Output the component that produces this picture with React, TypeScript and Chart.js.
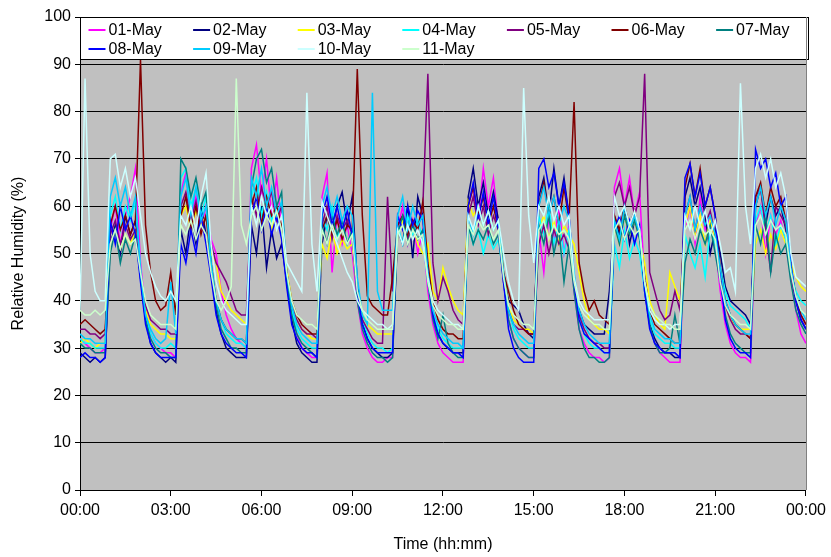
import React, { useEffect, useRef } from 'react';
import { Chart, registerables } from 'chart.js';

Chart.register(...registerables);

// Relative humidity (%) sampled every 10 minutes from 00:00 to 24:00 (145 samples per day)
const SERIES_LABELS = ['01-May', '02-May', '03-May', '04-May', '05-May', '06-May', '07-May', '08-May', '09-May', '10-May', '11-May'];
const SERIES_COLORS = ['#FF00FF', '#000080', '#FFFF00', '#00FFFF', '#800080', '#800000', '#008080', '#0000FF', '#00CCFF', '#CCFFFF', '#CCFFCC'];
const SAMPLE_MINUTES = Array.from({ length: 145 }, (_, i) => i * 10);
const X_TICK_LABELS = ['00:00', '03:00', '06:00', '09:00', '12:00', '15:00', '18:00', '21:00', '00:00'];

const MAY01 = [32,31,30,29,29,30, 55,60,52,58,62,68, 48,38,33,31,30,29,29,28, 63,67,58,62,55,60, 53,50,42,37,34,32,31,30, 68,73,62,70,58,66,55, 46,38,33,30,29,28,28, 62,67,46,58,52,56,50, 40,33,30,28,27,27,28,28, 55,60,52,57,50,55, 42,35,31,29,28,27,27,27, 60,64,57,68,60,66,56, 44,36,32,30,29,28,28, 55,46,58,52,60,50,56, 42,34,31,29,28,28,27,28, 64,68,60,66,58,63, 44,35,31,29,28,27,27,27, 55,60,52,62,55,58,52, 42,35,31,29,28,28,27, 56,60,50,58,54,57,52, 45,38,33,31];
const MAY02 = [29,28,27,28,27,28, 52,56,50,58,54,57, 45,36,31,29,28,27,28,27, 55,50,58,52,60,54, 46,38,33,30,29,28,28,28, 56,50,60,47,55,49,52, 44,36,31,29,28,27,27, 52,58,55,60,63,56,62, 44,36,32,30,29,28,28,29, 55,52,60,49,62,58, 45,37,33,31,30,29,29,29, 62,68,60,65,58,63,57, 46,40,39,38,35,33,32, 62,66,58,68,60,66,58, 44,38,35,34,33,33,33,42, 58,54,60,52,57,55, 42,35,32,30,29,29,28,28, 62,66,60,64,58,50,55, 50,43,40,39,38,37,35, 60,64,56,62,58,60,55, 46,40,36,34];
const MAY03 = [31,32,31,30,31,31, 52,55,51,54,52,55, 46,38,35,34,33,33,32,32, 58,60,55,59,56,58, 50,48,42,40,38,37,36,35, 58,62,56,60,55,59,56, 47,40,36,34,33,32,32, 52,49,55,50,53,51,52, 42,37,35,34,33,33,33,33, 54,57,53,56,52,50, 52,42,40,47,43,40,38,37, 61,58,60,56,59,55,57, 46,39,36,35,34,34,33, 55,58,53,57,52,56,54, 52,46,40,36,35,34,34,33, 56,52,58,54,57,53, 48,40,37,35,34,46,43,40, 56,60,54,58,52,57,53, 46,39,36,35,34,34,34, 52,55,50,54,51,55,52, 48,45,43,42];
const MAY04 = [32,31,31,30,30,30, 58,62,55,60,57,61, 47,37,33,31,30,30,31,30, 66,68,60,64,58,62, 48,40,36,33,32,31,31,30, 62,66,58,63,57,60,55, 45,38,34,32,31,30,30, 58,55,60,53,57,52,55, 42,36,33,31,30,30,29,30, 56,52,58,54,57,53, 44,37,34,32,31,30,30,30, 56,52,55,50,54,51,53, 45,38,34,32,31,30,30, 58,54,60,52,57,50,55, 45,37,33,31,30,30,29,29, 52,47,55,49,53,50, 42,36,33,32,31,31,30,30, 54,50,47,52,45,55,52, 47,42,39,38,37,36,34, 57,60,54,58,52,56,53, 46,42,40,39];
const MAY05 = [34,34,33,33,32,33, 54,57,52,56,53,55, 46,39,36,35,34,34,33,33, 60,63,57,61,55,58, 52,48,46,44,41,38,37,37, 62,58,64,60,63,57,60, 46,39,36,34,33,33,32, 56,60,53,58,55,57,54, 42,36,34,32,31,31,62,42, 56,58,53,57,55,60, 88,48,40,45,42,38,36,35, 58,62,56,60,54,58,55, 45,38,35,34,34,33,33, 52,56,50,55,52,54,51, 44,37,34,32,31,31,30,30, 62,65,60,64,58,62, 88,46,42,38,36,37,42,38, 58,62,55,60,56,59,54, 46,39,36,34,33,33,32, 62,64,55,46,60,58,56, 46,40,37,35];
const MAY06 = [35,36,35,34,33,34, 56,60,55,58,54,57, 91,56,46,40,38,39,46,37, 58,62,55,60,54,58, 48,40,36,34,33,32,32,31, 60,64,56,62,58,60,56, 46,40,37,35,34,33,33, 55,58,54,57,53,56,55, 89,58,41,39,38,37,37,45, 56,58,54,57,55,61, 48,40,36,34,33,33,32,32, 60,64,58,62,56,60,55, 46,42,38,35,34,33,33, 60,65,58,62,56,64,57, 82,48,42,38,40,37,36,35, 58,55,60,56,59,54, 45,38,35,34,33,32,31,31, 64,69,62,68,60,64,58, 47,40,37,35,34,33,32, 62,65,58,64,60,62,57, 47,41,37,35];
const MAY07 = [31,30,30,29,29,29, 50,55,48,53,50,54, 45,36,32,30,29,29,28,28, 70,68,62,66,60,63, 47,39,34,32,30,30,29,29, 64,70,72,65,68,60,63, 44,37,33,31,30,29,28, 56,52,58,54,57,52,55, 40,34,31,29,28,28,27,28, 54,58,52,56,53,55, 44,36,32,37,31,29,28,28, 56,52,55,53,56,52,54, 44,36,32,30,29,28,28, 56,52,58,50,55,44,52, 42,34,30,28,28,27,27,28, 56,52,58,54,57,53, 43,35,31,29,29,30,37,31, 48,53,50,55,52,56,50, 44,37,33,31,30,29,29, 56,52,58,46,54,50,52, 44,38,35,33];
const MAY08 = [28,29,28,28,27,28, 57,52,60,55,58,54, 44,35,31,29,28,28,28,28, 52,48,55,50,58,52, 45,37,33,31,30,29,29,28, 58,62,55,60,54,58,53, 43,35,32,30,29,29,28, 58,62,56,60,55,59,54, 42,35,32,30,29,29,29,29, 58,55,60,56,59,57, 46,37,33,31,30,29,29,28, 60,65,57,63,56,62,55, 44,34,30,28,27,27,27, 68,70,64,67,60,65,58, 44,36,33,32,31,30,29,29, 55,58,53,57,52,56, 42,34,31,30,29,29,29,28, 66,69,62,67,60,64,58, 45,36,32,30,29,29,28, 72,68,70,64,67,60,62, 48,40,36,34];
const MAY09 = [33,32,32,31,31,31, 62,66,60,64,58,62, 46,37,34,32,31,32,44,33, 62,66,58,64,57,60, 48,40,36,34,33,32,32,31, 66,62,68,60,64,58,61, 46,39,35,33,32,31,31, 60,64,58,62,57,60,58, 45,37,35,84,42,38,38,38, 58,62,55,60,56,58, 46,38,35,33,32,31,31,30, 58,54,60,56,59,55,57, 46,38,35,33,32,31,31, 60,64,58,62,56,60,57, 46,38,35,33,32,31,31,31, 57,53,60,55,58,54, 44,37,34,33,32,32,31,31, 58,62,55,60,56,58,54, 47,40,37,35,34,33,33, 60,64,58,62,56,60,57, 47,41,38,36];
const MAY10 = [38,87,50,42,40,40, 70,71,64,68,62,66, 58,50,46,43,41,40,42,40, 58,56,60,55,62,67, 52,44,40,38,37,36,35,35, 60,56,62,58,60,55,58, 48,46,44,42,84,52,42, 61,58,55,52,49,46,44, 40,38,37,36,35,35,34,35, 55,52,56,53,55,52, 45,40,38,37,36,35,35,34, 58,55,60,56,59,55,57, 50,44,40,38,85,58,48, 60,58,62,57,60,56,58, 45,40,38,37,36,36,36,36, 62,58,60,56,59,55, 44,38,36,35,35,34,35,35, 58,55,60,56,59,54,57, 52,46,47,42,86,60,52, 68,71,66,70,64,67,62, 50,45,44,43];
const MAY11 = [38,37,37,38,37,38, 52,55,51,54,52,53, 46,40,37,36,35,35,35,34, 56,54,57,53,56,54, 46,40,38,40,43,87,56,52, 58,60,55,58,56,59,55, 46,40,37,36,35,35,34, 55,52,56,53,55,52,54, 42,38,36,35,34,34,34,34, 54,56,52,55,53,54, 44,39,37,36,35,35,34,34, 56,54,57,55,56,53,55, 45,39,37,36,35,35,34, 55,57,53,56,54,55,53, 44,39,37,36,35,35,34,34, 55,57,53,56,54,55, 44,39,37,36,35,35,34,34, 55,57,53,56,54,55,53, 44,39,37,36,35,35,34, 56,58,54,57,55,56,54, 46,41,38,37];

const SERIES = [MAY01, MAY02, MAY03, MAY04, MAY05, MAY06, MAY07, MAY08, MAY09, MAY10, MAY11];

const FONT_FAMILY = '"Liberation Sans", Arial, sans-serif';
const FONT_SIZE = 16;

const plotBackground = {
  id: 'plotBackground',
  beforeDraw(chart: any) {
    const { ctx, chartArea } = chart;
    ctx.save();
    ctx.fillStyle = '#C0C0C0';
    ctx.fillRect(chartArea.left, chartArea.top, chartArea.right - chartArea.left, chartArea.bottom - chartArea.top);
    ctx.restore();
  },
  afterDraw(chart: any) {
    const { ctx, chartArea } = chart;
    ctx.save();
    ctx.strokeStyle = '#808080';
    ctx.lineWidth = 1;
    ctx.beginPath();
    ctx.moveTo(Math.round(chartArea.right) + 0.5, chartArea.top);
    ctx.lineTo(Math.round(chartArea.right) + 0.5, chartArea.bottom);
    ctx.stroke();
    ctx.restore();
  },
};

const boxLegend = {
  id: 'boxLegend',
  afterDatasetsDraw(chart: any) {
    const { ctx, chartArea } = chart;
    const left = Math.round(chartArea.left) + 0.5;
    const top = Math.round(chartArea.top) + 0.5;
    const width = Math.round(chartArea.right - chartArea.left) + 2;
    const height = 42;
    ctx.save();
    ctx.fillStyle = '#FFFFFF';
    ctx.fillRect(left, top, width, height);
    ctx.strokeStyle = '#000000';
    ctx.lineWidth = 1;
    ctx.strokeRect(left, top, width, height);
    ctx.font = `${FONT_SIZE}px ${FONT_FAMILY}`;
    ctx.textBaseline = 'middle';
    ctx.textAlign = 'left';
    SERIES_LABELS.forEach((label, i) => {
      const col = i % 7;
      const row = Math.floor(i / 7);
      const x = left + 8 + col * 104.6;
      const y = top + 12.5 + row * 19;
      ctx.strokeStyle = SERIES_COLORS[i];
      ctx.lineWidth = 2;
      ctx.beginPath();
      ctx.moveTo(x, y);
      ctx.lineTo(x + 17, y);
      ctx.stroke();
      ctx.fillStyle = '#000000';
      ctx.fillText(label, x + 20, y + 1);
    });
    ctx.restore();
  },
};

export default function App() {
  const canvasRef = useRef<HTMLCanvasElement>(null);

  useEffect(() => {
    const canvas = canvasRef.current;
    if (!canvas) return;
    const font = { family: FONT_FAMILY, size: FONT_SIZE };
    const chart = new Chart(canvas, {
      type: 'line',
      data: {
        datasets: SERIES.map((values, i) => ({
          label: SERIES_LABELS[i],
          data: values.map((v, j) => ({ x: SAMPLE_MINUTES[j], y: v })),
          borderColor: SERIES_COLORS[i],
          backgroundColor: SERIES_COLORS[i],
          borderWidth: 1.5,
          pointRadius: 0,
          pointHoverRadius: 0,
          fill: false,
          tension: 0,
          order: SERIES.length - 1 - i,
        })),
      },
      options: {
        responsive: false,
        animation: false,
        devicePixelRatio: 1,
        layout: { padding: { left: 0, right: 25, top: 17, bottom: 0 } },
        plugins: {
          legend: { display: false },
          tooltip: { enabled: false },
        },
        scales: {
          x: {
            type: 'linear',
            min: 0,
            max: 1440,
            ticks: {
              stepSize: 180,
              autoSkip: false,
              maxRotation: 0,
              color: '#000000',
              font,
              padding: 5,
              callback: (v: any) => X_TICK_LABELS[Math.round(Number(v) / 180)],
            },
            grid: { drawOnChartArea: false, color: '#000000', tickLength: 6 },
            border: { color: '#000000', width: 1 },
            title: { display: true, text: 'Time (hh:mm)', color: '#000000', font, padding: { top: 0, bottom: 3 } },
            afterFit: (scale: any) => { scale.height = 67; },
          },
          y: {
            min: 0,
            max: 100,
            ticks: { stepSize: 10, color: '#000000', font, padding: 4 },
            grid: { color: '#000000', tickLength: 5 },
            border: { color: '#000000', width: 1 },
            title: { display: true, text: 'Relative Humidity (%)', color: '#000000', font, padding: { top: 9, bottom: 0 } },
            afterFit: (scale: any) => { scale.width = 80; },
          },
        },
      },
      plugins: [plotBackground, boxLegend],
    });
    return () => chart.destroy();
  }, []);

  return (
    <div style={{ position: 'absolute', left: 0, top: 0, width: 831, height: 557, background: '#FFFFFF' }}>
      <canvas ref={canvasRef} width={831} height={557} style={{ display: 'block' }} />
    </div>
  );
}
